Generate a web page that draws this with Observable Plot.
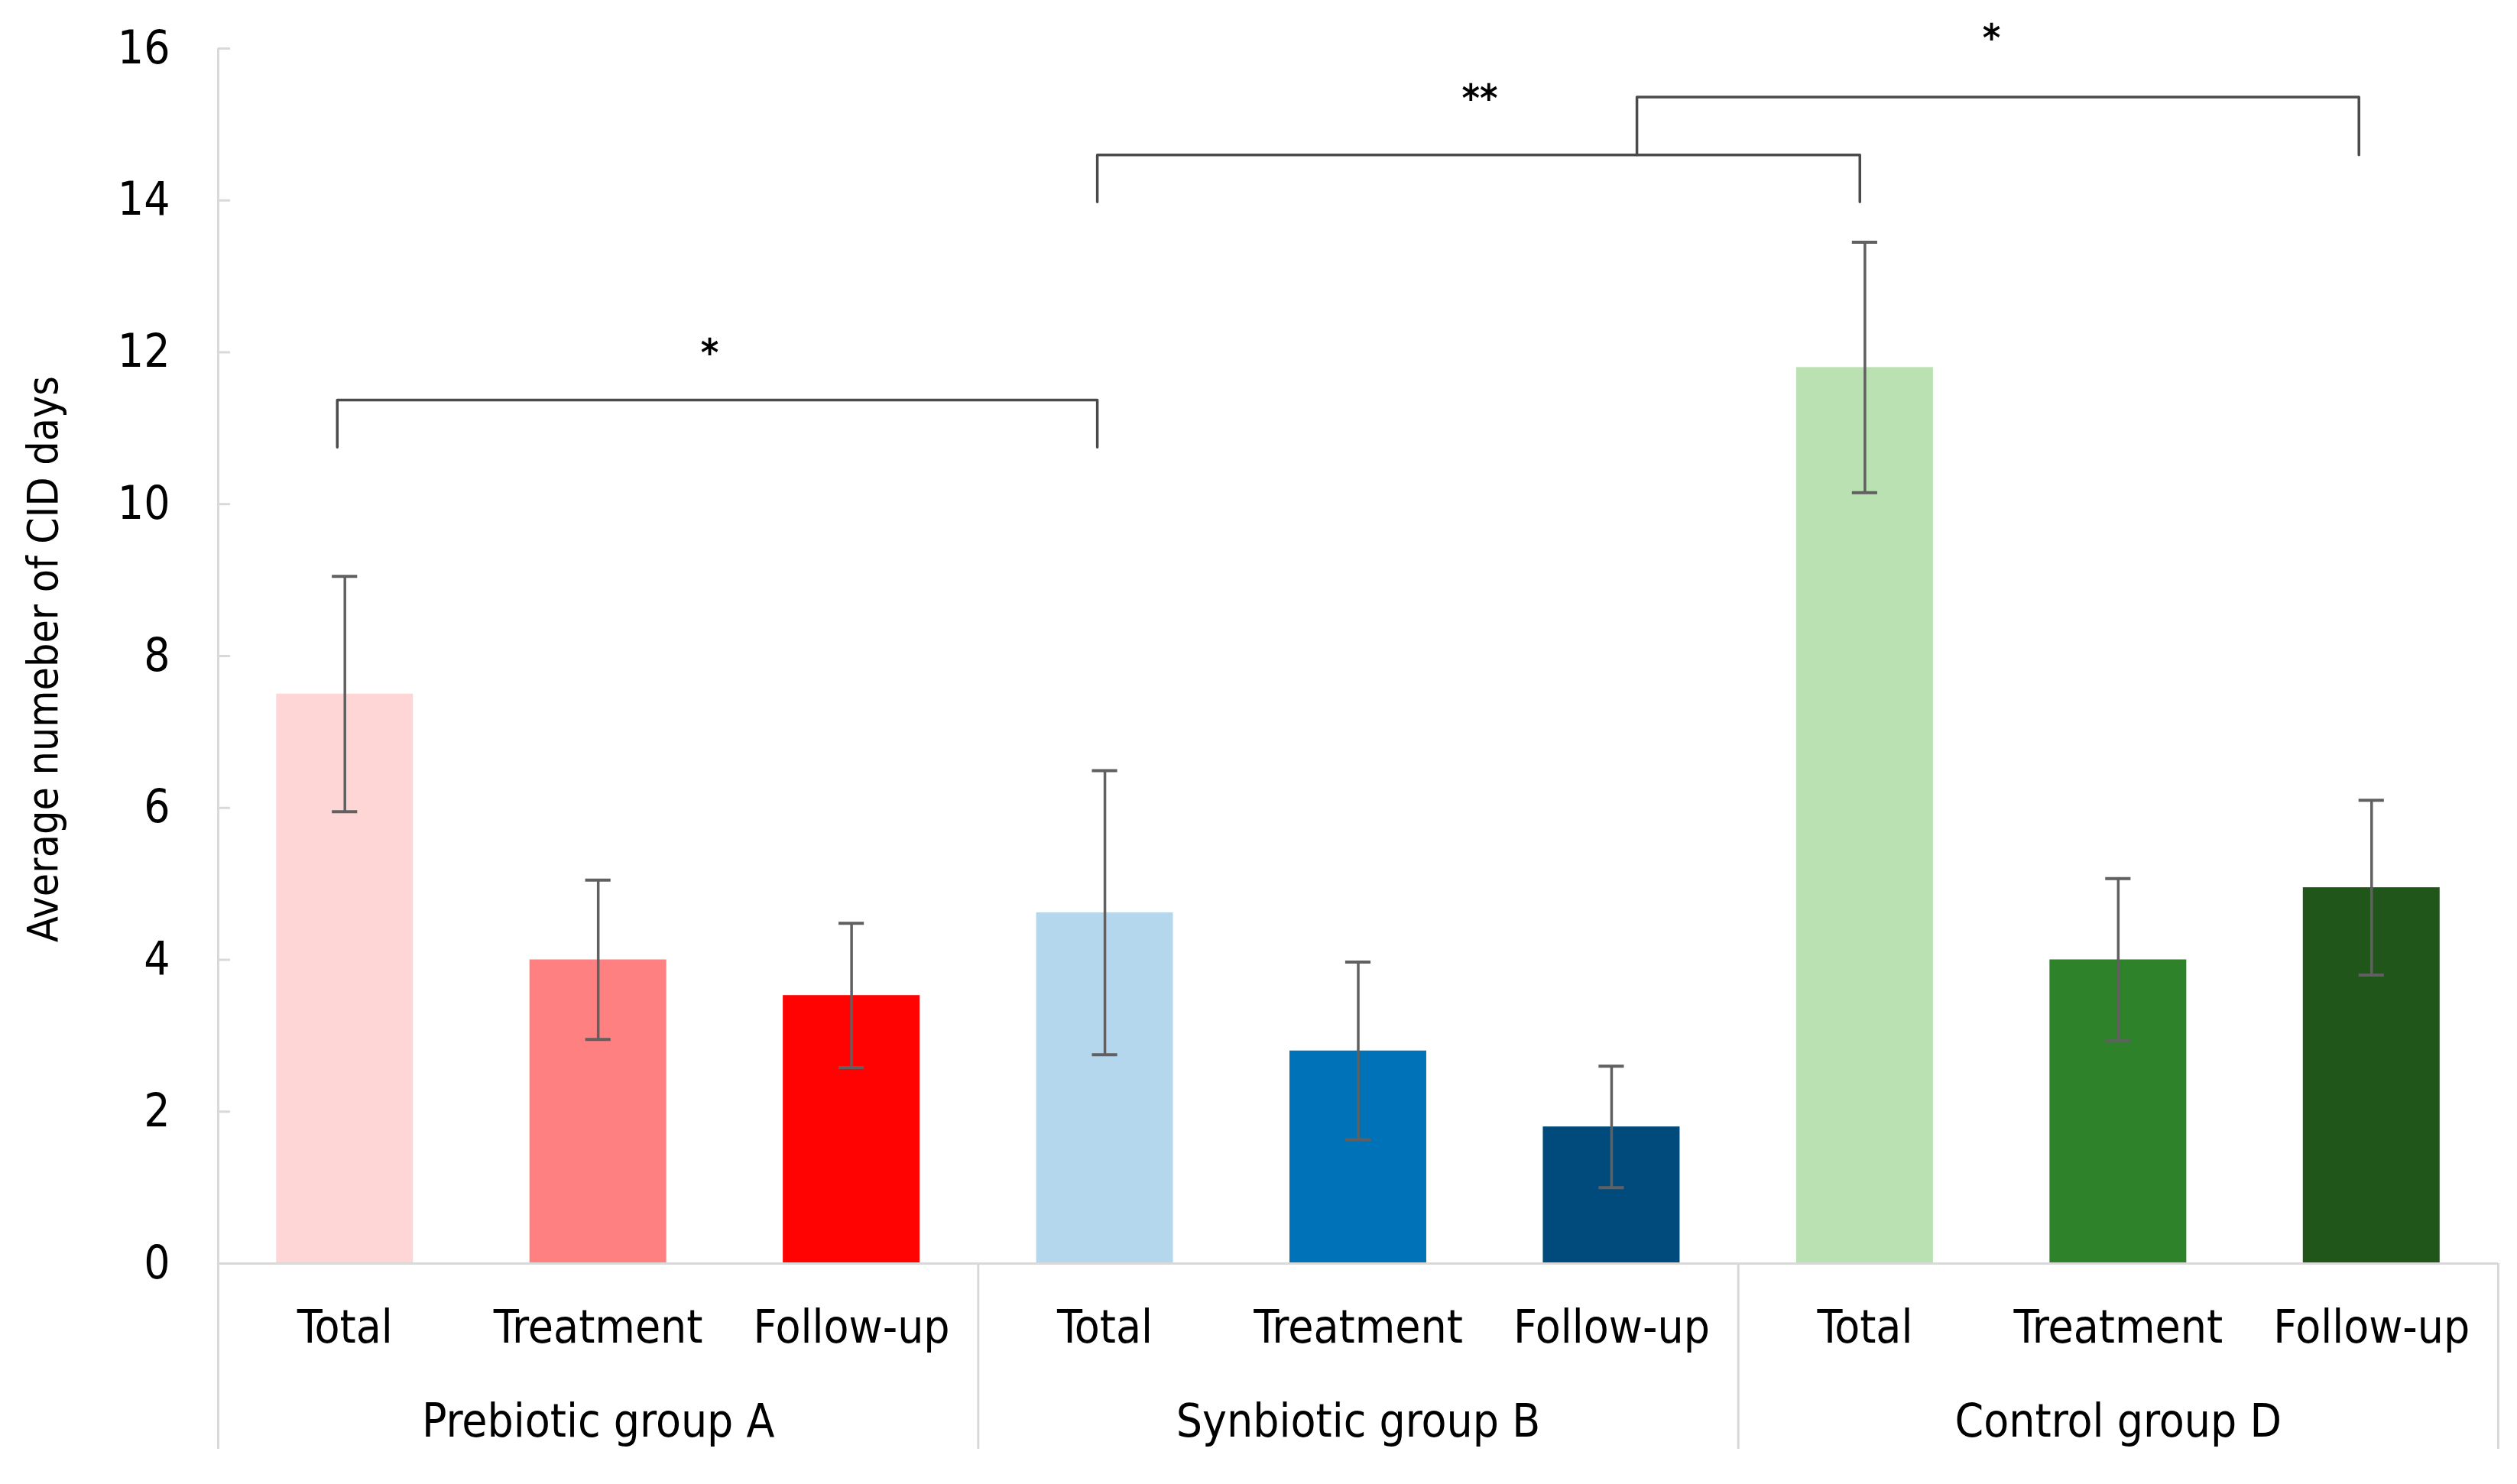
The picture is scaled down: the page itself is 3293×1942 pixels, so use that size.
<!DOCTYPE html>
<html>
<head>
<meta charset="utf-8">
<script src="https://cdn.jsdelivr.net/npm/d3@7"></script>
<script src="https://cdn.jsdelivr.net/npm/@observablehq/plot@0.6"></script>
<style>
  html, body { margin: 0; padding: 0; background: #ffffff; }
  #chart { width: 3293px; height: 1942px; }
</style>
</head>
<body>
<div id="chart"></div>
<script>
// ---- data ----
const groups = ["Prebiotic group A", "Synbiotic group B", "Control group D"];
const phases = ["Total", "Treatment", "Follow-up"];
const meansA = [7.5, 4.0, 3.53];
const meansB = [4.62, 2.8, 1.8];
const meansD = [11.8, 4.0, 4.95];
const errA = [1.55, 1.05, 0.95];
const errB = [1.87, 1.17, 0.8];
const errD = [1.65, 1.07, 1.15];
const colorsA = ["#FFD6D6", "#FF8080", "#FF0303"];
const colorsB = ["#B4D7EE", "#0073B8", "#004B7B"];
const colorsD = ["#BAE1B2", "#2E8229", "#21561A"];
const yTicks = [0, 2, 4, 6, 8, 10, 12, 14, 16];
const yLabel = "Average numeber of CID days";

// significance brackets (x in bar-index units, y in data units)
const bracketX1 = [-0.03, 2.97, 5.1];
const bracketX2 = [2.97, 5.98, 7.95];
const bracketTop = [11.37, 14.6, 15.36];
const bracketLegL = [10.75, 13.98, 14.6];
const bracketLegR = [10.75, 13.98, 14.6];
const bracketText = ["*", "**", "*"];
const bracketTextX = [1.44, 4.48, 6.5];
const bracketTextY = [12.1, 15.45, 16.25];

// ---- tables built from the arrays ----
const means = [meansA, meansB, meansD];
const errs = [errA, errB, errD];
const colors = [colorsA, colorsB, colorsD];
const bars = [];
groups.forEach((g, gi) => phases.forEach((p, pi) => {
  bars.push({i: gi * 3 + pi, group: g, phase: p, v: means[gi][pi], e: errs[gi][pi], color: colors[gi][pi]});
}));
const groupCenters = groups.map((g, gi) => ({g, i: gi * 3 + 1}));
const separators = [-0.5, 2.5, 5.5, 8.5];
const bracketPts = [];
bracketX1.forEach((x1, k) => {
  bracketPts.push({k, x: x1, y: bracketLegL[k]});
  bracketPts.push({k, x: x1, y: bracketTop[k]});
  bracketPts.push({k, x: bracketX2[k], y: bracketTop[k]});
  bracketPts.push({k, x: bracketX2[k], y: bracketLegR[k]});
});
const stars = bracketText.map((t, k) => ({t, x: bracketTextX[k], y: bracketTextY[k]}));

const FONT = "'DejaVu Sans Condensed', 'DejaVu Sans', sans-serif";
const W = 3293, H = 1942, ML = 285, MR = 25, MT = 63, MB = 289;
const halfBar = 0.27, halfCap = 0.05;

const chart = Plot.plot({
  width: W,
  height: H,
  marginLeft: ML,
  marginRight: MR,
  marginTop: MT,
  marginBottom: MB,
  style: {fontFamily: FONT, fontSize: "60px", background: "#ffffff", color: "#000000", fontStretch: "condensed"},
  x: {type: "linear", domain: [-0.5, 8.5], axis: null},
  y: {domain: [0, 16], axis: null},
  color: {type: "identity"},
  marks: [
    // y tick marks (short, inside)
    Plot.ruleY(yTicks, {y: d => d, stroke: "#d9d9d9", strokeWidth: 3, insetRight: W - ML - MR - 16}),
    // bars
    Plot.rectY(bars, {x1: d => d.i - halfBar, x2: d => d.i + halfBar, y1: 0, y2: "v", fill: "color"}),
    // x axis baseline
    Plot.ruleY([0], {stroke: "#d9d9d9", strokeWidth: 3}),
    // y axis line
    Plot.ruleX([-0.5], {stroke: "#d9d9d9", strokeWidth: 3}),
    // group separators below axis
    Plot.ruleX(separators, {x: d => d, y1: 0, y2: 0, insetBottom: -243, stroke: "#d9d9d9", strokeWidth: 3}),
    // error bars
    Plot.ruleX(bars, {x: "i", y1: d => d.v - d.e, y2: d => d.v + d.e, stroke: "#606060", strokeWidth: 3.5}),
    Plot.ruleY(bars, {y: d => d.v - d.e, x1: d => d.i - halfCap, x2: d => d.i + halfCap, stroke: "#606060", strokeWidth: 4}),
    Plot.ruleY(bars, {y: d => d.v + d.e, x1: d => d.i - halfCap, x2: d => d.i + halfCap, stroke: "#606060", strokeWidth: 4}),
    // brackets
    Plot.line(bracketPts, {x: "x", y: "y", z: "k", stroke: "#4a4a4a", strokeWidth: 3.5, strokeLinejoin: "round"}),
    Plot.text(stars, {x: "x", y: "y", text: "t", fontSize: 50, fontWeight: "bold", fill: "#000", dy: 12}),
    // y tick labels
    Plot.axisY({ticks: yTicks, tickSize: 0, tickPadding: 63, fontSize: 60, fill: "#000", tickFormat: d => String(d)}),
    // category labels
    Plot.text(bars, {x: "i", y: 0, text: "phase", dy: 84, fontSize: 60, fill: "#000"}),
    // group labels
    Plot.text(groupCenters, {x: "i", y: 0, text: "g", dy: 207, fontSize: 60, fill: "#000"}),
    // y axis title
    Plot.text([yLabel], {frameAnchor: "left", text: d => d, dx: -228, dy: 4, rotate: -90, textAnchor: "middle", fontSize: 55, fill: "#000"})
  ]
});
document.getElementById("chart").appendChild(chart);
</script>
</body>
</html>
